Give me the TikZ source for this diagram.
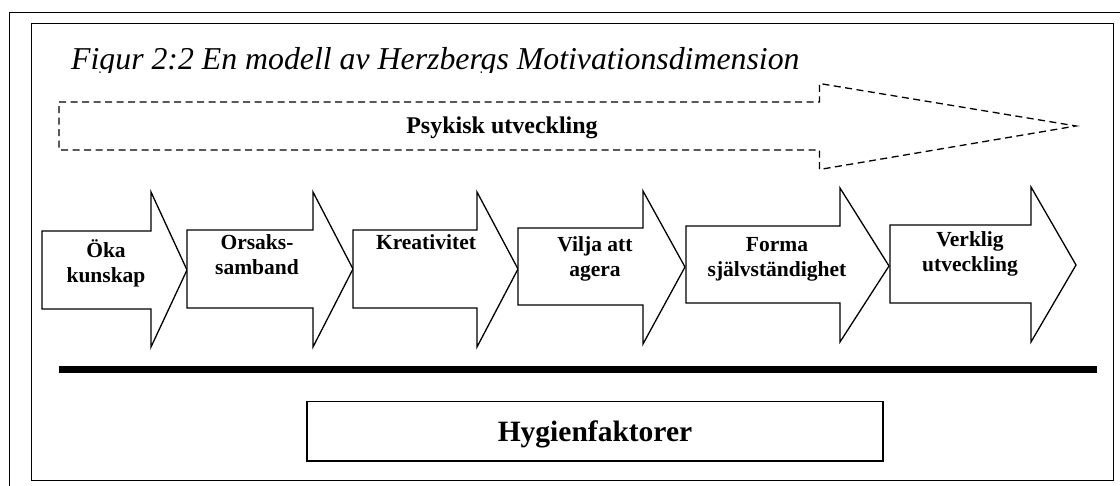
\documentclass[tikz,border=0pt]{standalone}
\usepackage{fontspec}
\setmainfont{Liberation Serif}

% outline of a block arrow: left, shaft top, shaft bottom, notch x,
% head top, head bottom, tip x, tip y
\newcommand{\blkarrow}[8]{%
  \draw[blockarrow] (#1,#2) -- (#4,#2) -- (#4,#5) -- (#7,#8)
    -- (#4,#6) -- (#4,#3) -- (#1,#3) -- cycle;}

\begin{document}
\begin{tikzpicture}[x=1pt,y=-1pt,
  frame/.style={draw=black,line width=1.4pt},
  blockarrow/.style={draw=black,line width=1.3pt,line join=miter,fill=white},
  dasharrow/.style={draw=black,line width=1.3pt,dash pattern=on 7pt off 4.5pt},
  steplabel/.style={font=\fontsize{21.5}{25}\selectfont\bfseries,
    align=center,anchor=base,inner sep=0pt},
]
\useasboundingbox (0,0) rectangle (1120,486);
\fill[white] (0,0) rectangle (1120,486);

% outer frame, running past the page edge
\draw[frame] (9.3,500) -- (9.3,12.7) -- (1130,12.7);
% inner frame
\draw[frame] (31.5,23.5) rectangle (1113.3,480.5);

% caption, cut off just below its baseline
\begin{scope}
  \clip (32,24) rectangle (1112,72.5);
  \node[anchor=base west,inner sep=0pt,
    font=\fontsize{31.8}{36}\selectfont\itshape] (title) at (71,70)
    {Figur 2:2 En modell av Herzbergs Motivationsdimension};
\end{scope}

% dashed arrow across the top
\draw[dasharrow] (59,102) -- (819.5,102) -- (819.5,83.5) -- (1076,126)
  -- (819.5,169.5) -- (819.5,150) -- (59,150) -- cycle;
\node[font=\fontsize{24}{28}\selectfont\bfseries,anchor=base,inner sep=0pt]
  (psy) at (502,134) {Psykisk utveckling};

% chain of block arrows
\blkarrow{42}{231}{309}{151}{192}{347}{187}{270}
\blkarrow{187}{230}{308}{313}{192}{347}{353}{269}
\blkarrow{353}{230}{308}{477}{192}{347}{518}{269}
\blkarrow{518}{228}{305}{643}{191}{344}{685}{267}
\blkarrow{686}{226}{303}{840}{188}{342}{889}{266}
\blkarrow{890}{225}{303}{1031}{187}{342}{1076}{265}

% labels, placed by the baseline of their last line
\node[steplabel] (s1) at (106,283) {Öka\\kunskap};
\node[steplabel] (s2) at (257,275) {Orsaks-\\samband};
\node[steplabel] (s3) at (426,250) {Kreativitet};
\node[steplabel] (s4) at (595,277) {Vilja att\\agera};
\node[steplabel] (s5) at (777,277) {Forma\\självständighet};
\node[steplabel] (s6) at (970,272) {Verklig\\utveckling};

% heavy divider
\draw[line width=7pt] (59,369.5) -- (1097,369.5);

% hygiene factors box
\draw[line width=1.3pt] (307,401.5) rectangle (883,461);
\node[font=\fontsize{29.5}{34}\selectfont\bfseries,anchor=base,inner sep=0pt]
  (hyg) at (595,441.4) {Hygienfaktorer};
\end{tikzpicture}
\end{document}
